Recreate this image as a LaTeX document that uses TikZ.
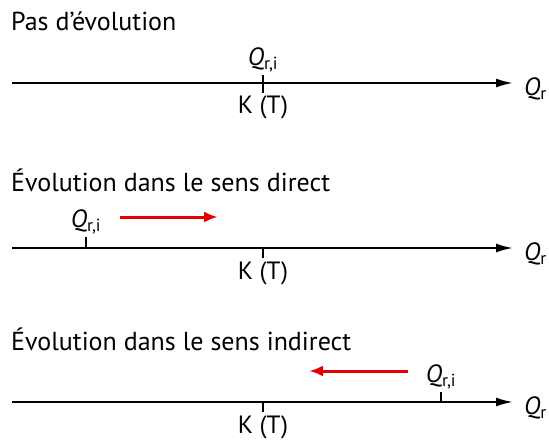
\documentclass[tikz,border=0pt]{standalone}
\usepackage{fontspec}
\setmainfont{PT Sans}
\usetikzlibrary{arrows.meta,positioning}

\tikzset{
  titre/.style={anchor=base west, inner sep=0pt, font=\fontsize{26}{28}\selectfont},
  etiq/.style={inner sep=3pt, font=\fontsize{25}{27}\selectfont},
  axe/.style={line width=2pt, -{Latex[length=17pt,width=9pt]}},
  graduation/.style={line width=2pt},
  flecherouge/.style={line width=3pt, red!90!black, -{Latex[length=14pt,width=11pt]}}
}
\newcommand{\Qri}{\textit{Q}\textsubscript{r,i}}
\newcommand{\Qr}{\textit{Q}\textsubscript{r}}

\begin{document}
\begin{tikzpicture}[x=1pt,y=-1pt]
\useasboundingbox (0,0) rectangle (549,441);

% Pas d'evolution
\node[titre] (t1) at (11,31) {Pas d’évolution};
\coordinate (a1) at (12,83);
\coordinate (b1) at (513,83);
\draw[axe] (a1) -- (b1);
\node[etiq, anchor=west] (qr1) at (521,89) {\Qr};
\coordinate (k1h) at (263,75);
\coordinate (k1b) at (263,93);
\draw[graduation] (k1h) -- (k1b);
\node[etiq, anchor=south] (qi1) at (k1h) {\Qri};
\node[etiq, anchor=north] (k1) at (k1b) {K (T)};

% Sens direct
\node[titre] (t2) at (11,192) {Évolution dans le sens direct};
\coordinate (a2) at (12,248);
\coordinate (b2) at (513,248);
\draw[axe] (a2) -- (b2);
\node[etiq, anchor=west] (qr2) at (521,254) {\Qr};
\coordinate (q2h) at (86,237);
\coordinate (q2b) at (86,248);
\draw[graduation] (q2h) -- (q2b);
\node[etiq, anchor=south] (qi2) at (q2h) {\Qri};
\coordinate (k2h) at (263,248);
\coordinate (k2b) at (263,258);
\draw[graduation] (k2h) -- (k2b);
\node[etiq, anchor=north] (k2) at (k2b) {K (T)};
\coordinate (r2a) at (120,217);
\coordinate (r2b) at (218,217);
\draw[flecherouge] (r2a) -- (r2b);

% Sens indirect
\node[titre] (t3) at (11,350) {Évolution dans le sens indirect};
\coordinate (a3) at (12,402);
\coordinate (b3) at (513,402);
\draw[axe] (a3) -- (b3);
\node[etiq, anchor=west] (qr3) at (521,408) {\Qr};
\coordinate (q3h) at (441,392);
\coordinate (q3b) at (441,402);
\draw[graduation] (q3h) -- (q3b);
\node[etiq, anchor=south] (qi3) at (q3h) {\Qri};
\coordinate (k3h) at (263,402);
\coordinate (k3b) at (263,412);
\draw[graduation] (k3h) -- (k3b);
\node[etiq, anchor=north] (k3) at (k3b) {K (T)};
\coordinate (r3a) at (408,371);
\coordinate (r3b) at (309,371);
\draw[flecherouge] (r3a) -- (r3b);
\end{tikzpicture}
\end{document}
